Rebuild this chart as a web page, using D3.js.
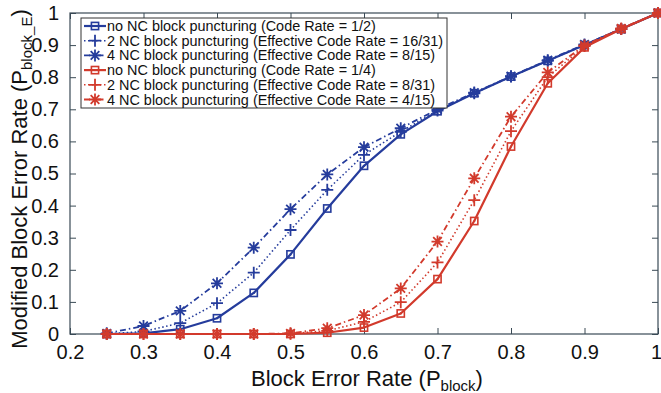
<!DOCTYPE html>
<html>
<head>
<meta charset="utf-8">
<script src="https://cdn.jsdelivr.net/npm/d3@7"></script>
<style>
  html, body { margin: 0; padding: 0; background: #ffffff; }
  svg { display: block; }
  text { font-family: "Liberation Sans", Arial, Helvetica, sans-serif; fill: #111; }
</style>
</head>
<body>
<svg id="chart" width="661" height="393"></svg>
<script>
// Block error rate grid (x values shared by every series)
const blockErrorRate = [0.25, 0.3, 0.35, 0.4, 0.45, 0.5, 0.55, 0.6, 0.65, 0.7, 0.75, 0.8, 0.85, 0.9, 0.95, 1.0];

// Code rate 1/2 family
const rateHalfNone  = [0, 0.002, 0.015, 0.049, 0.128, 0.248, 0.391, 0.524, 0.622, 0.694, 0.750, 0.802, 0.851, 0.900, 0.950, 1.0];
const rateHalfTwo   = [0, 0.008, 0.034, 0.096, 0.191, 0.324, 0.449, 0.558, 0.630, 0.696, 0.750, 0.802, 0.851, 0.900, 0.950, 1.0];
const rateHalfFour  = [0.002, 0.025, 0.072, 0.158, 0.269, 0.389, 0.497, 0.582, 0.641, 0.700, 0.752, 0.803, 0.853, 0.902, 0.950, 1.0];

// Code rate 1/4 family
const rateQuarterNone = [0, 0, 0, 0, 0, 0, 0.004, 0.020, 0.064, 0.171, 0.352, 0.584, 0.781, 0.893, 0.950, 1.0];
const rateQuarterTwo  = [0, 0, 0, 0, 0, 0.001, 0.010, 0.038, 0.099, 0.223, 0.417, 0.632, 0.800, 0.897, 0.950, 1.0];
const rateQuarterFour = [0, 0, 0, 0, 0, 0.002, 0.018, 0.059, 0.142, 0.288, 0.485, 0.677, 0.815, 0.899, 0.952, 1.0];

const xTicks = [0.2, 0.3, 0.4, 0.5, 0.6, 0.7, 0.8, 0.9, 1];
const yTicks = [0, 0.1, 0.2, 0.3, 0.4, 0.5, 0.6, 0.7, 0.8, 0.9, 1];
const xTickLabels = ["0.2", "0.3", "0.4", "0.5", "0.6", "0.7", "0.8", "0.9", "1"];
const yTickLabels = ["0", "0.1", "0.2", "0.3", "0.4", "0.5", "0.6", "0.7", "0.8", "0.9", "1"];

const legendLabels = [
  "no NC block puncturing (Code Rate = 1/2)",
  "2 NC block puncturing (Effective Code Rate = 16/31)",
  "4 NC block puncturing (Effective Code Rate = 8/15)",
  "no NC block puncturing (Code Rate = 1/4)",
  "2 NC block puncturing (Effective Code Rate = 8/31)",
  "4 NC block puncturing (Effective Code Rate = 4/15)"
];

const BLUE = "#253c9c";
const RED = "#d23a2c";

const series = [
  { values: rateHalfNone,    color: BLUE, dash: null,        width: 2.2, marker: "square" },
  { values: rateHalfTwo,     color: BLUE, dash: "1.5,2.5",   width: 1.6, marker: "plus" },
  { values: rateHalfFour,    color: BLUE, dash: "6,3,1.5,3", width: 1.8, marker: "star" },
  { values: rateQuarterNone, color: RED,  dash: null,        width: 2.2, marker: "square" },
  { values: rateQuarterTwo,  color: RED,  dash: "1.5,2.5",   width: 1.6, marker: "plus" },
  { values: rateQuarterFour, color: RED,  dash: "6,3,1.5,3", width: 1.8, marker: "star" }
];

const svg = d3.select("#chart");
const margin = { left: 70, right: 3, top: 13, bottom: 59 };
const W = 661, H = 393;
const plotW = W - margin.left - margin.right;
const plotH = H - margin.top - margin.bottom;

const x = d3.scaleLinear().domain([0.2, 1]).range([margin.left, margin.left + plotW]);
const y = d3.scaleLinear().domain([0, 1]).range([margin.top + plotH, margin.top]);

const AXIS = "#3a4a55";
const tickLen = 6;

// Axes with inward ticks on all four sides
const gx = svg.append("g").attr("transform", `translate(0,${margin.top + plotH})`)
  .call(d3.axisBottom(x).tickValues(xTicks).tickSizeInner(-tickLen).tickSizeOuter(0)
    .tickFormat((d, i) => xTickLabels[i]).tickPadding(tickLen + 5));
const gxt = svg.append("g").attr("transform", `translate(0,${margin.top})`)
  .call(d3.axisTop(x).tickValues(xTicks).tickSizeInner(-tickLen).tickSizeOuter(0).tickFormat(""));
const gy = svg.append("g").attr("transform", `translate(${margin.left},0)`)
  .call(d3.axisLeft(y).tickValues(yTicks).tickSizeInner(-tickLen).tickSizeOuter(0)
    .tickFormat((d, i) => yTickLabels[i]).tickPadding(tickLen + 5));
const gyr = svg.append("g").attr("transform", `translate(${margin.left + plotW},0)`)
  .call(d3.axisRight(y).tickValues(yTicks).tickSizeInner(-tickLen).tickSizeOuter(0).tickFormat(""));

[gx, gxt, gy, gyr].forEach(g => {
  g.select(".domain").remove();
  g.selectAll(".tick line").attr("stroke", AXIS).attr("stroke-width", 1);
  g.selectAll(".tick text").style("font-size", "20px").attr("fill", "#111");
});
// keep the last x label inside the page edge
gx.selectAll(".tick text").filter((d, i) => i === xTicks.length - 1).attr("dx", -2);

// Plot frame
svg.append("rect")
  .attr("x", margin.left).attr("y", margin.top)
  .attr("width", plotW).attr("height", plotH)
  .attr("fill", "none").attr("stroke", AXIS).attr("stroke-width", 1.2);

// Marker painter
function drawMarker(g, type, cx, cy, color) {
  if (type === "square") {
    g.append("rect").attr("x", cx - 3.6).attr("y", cy - 3.6).attr("width", 7.2).attr("height", 7.2)
      .attr("fill", "none").attr("stroke", color).attr("stroke-width", 1.6);
    g.append("circle").attr("cx", cx).attr("cy", cy).attr("r", 1.1).attr("fill", color);
  } else if (type === "plus") {
    const r = 6;
    g.append("path").attr("d", `M${cx - r},${cy}H${cx + r}M${cx},${cy - r}V${cy + r}`)
      .attr("stroke", color).attr("stroke-width", 1.8).attr("fill", "none");
  } else {
    const r = 6, d = r * 0.72;
    g.append("path")
      .attr("d", `M${cx - r},${cy}H${cx + r}M${cx},${cy - r}V${cy + r}M${cx - d},${cy - d}L${cx + d},${cy + d}M${cx - d},${cy + d}L${cx + d},${cy - d}`)
      .attr("stroke", color).attr("stroke-width", 1.8).attr("fill", "none");
  }
}

const line = d3.line().x(d => x(d[0])).y(d => y(d[1]));

const plot = svg.append("g");
series.forEach(s => {
  const pts = blockErrorRate.map((v, i) => [v, s.values[i]]);
  const g = plot.append("g");
  g.append("path").datum(pts).attr("d", line)
    .attr("fill", "none").attr("stroke", s.color).attr("stroke-width", s.width)
    .attr("stroke-dasharray", s.dash).attr("stroke-linejoin", "round");
  pts.forEach(p => drawMarker(g, s.marker, x(p[0]), y(p[1]), s.color));
});

// Legend
const lg = svg.append("g");
const lgX = 81, lgY = 18, lgW = 366, lgH = 90;
lg.append("rect").attr("x", lgX).attr("y", lgY).attr("width", lgW).attr("height", lgH)
  .attr("fill", "#ffffff").attr("stroke", "#333").attr("stroke-width", 1);
const rowH = 14.7;
const texts = [];
series.forEach((s, i) => {
  const cy = lgY + 8 + i * rowH;
  const row = lg.append("g");
  row.append("line").attr("x1", 84).attr("x2", 106).attr("y1", cy).attr("y2", cy)
    .attr("stroke", s.color).attr("stroke-width", s.width).attr("stroke-dasharray", s.dash);
  drawMarker(row, s.marker, 95, cy, s.color);
  const t = row.append("text").attr("x", 107).attr("y", cy + 5)
    .style("font-size", "14px").text(legendLabels[i]);
  texts.push(t);
});
// condense legend text to fit the box
const refW = texts[1].node().getComputedTextLength();
const k = 336 / refW;
texts.forEach(t => {
  const w = t.node().getComputedTextLength();
  t.attr("textLength", w * k).attr("lengthAdjust", "spacingAndGlyphs");
});

// Axis titles
const xt = svg.append("text").attr("x", 367).attr("y", 386).attr("text-anchor", "middle")
  .style("font-size", "22px");
xt.append("tspan").text("Block Error Rate (P");
xt.append("tspan").text("block").style("font-size", "15px").attr("dy", 5);
xt.append("tspan").text(")").attr("dy", -5);

const yt = svg.append("text").attr("transform", `translate(27,179) rotate(-90)`)
  .attr("text-anchor", "middle").style("font-size", "22px");
yt.append("tspan").text("Modified Block Error Rate (P");
yt.append("tspan").text("block_E").style("font-size", "15px").attr("dy", 5);
yt.append("tspan").text(")").attr("dy", -5);
</script>
</body>
</html>
